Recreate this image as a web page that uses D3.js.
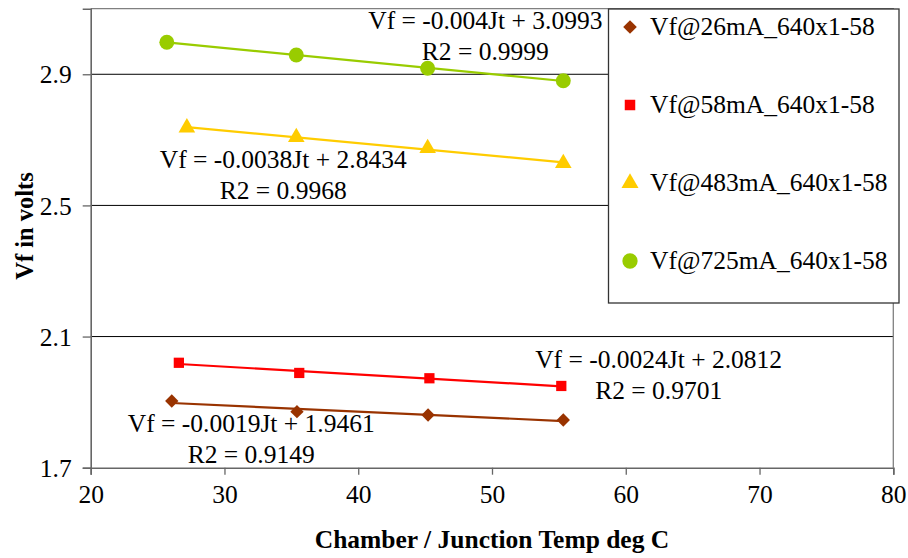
<!DOCTYPE html>
<html>
<head>
<meta charset="utf-8">
<script src="https://cdn.jsdelivr.net/npm/d3@7/dist/d3.min.js"></script>
<style>
  html, body { margin: 0; padding: 0; background: #fff; }
  svg { display: block; }
  text { font-family: "Liberation Serif", "Times New Roman", Times, serif; fill: #000; }
</style>
</head>
<body>
<svg id="chart" width="908" height="558"></svg>
<script>
// ---------- data ----------
const seriesNames = ["Vf@26mA_640x1-58", "Vf@58mA_640x1-58", "Vf@483mA_640x1-58", "Vf@725mA_640x1-58"];
const temps26  = [26.06, 35.42, 45.22, 55.33];
const volts26  = [1.9035, 1.8709, 1.8608, 1.8455];
const temps58  = [26.59, 35.59, 45.32, 55.18];
const volts58  = [2.0200, 1.9890, 1.9728, 1.9493];
const temps483 = [27.19, 35.37, 45.19, 55.33];
const volts483 = [2.7370, 2.7078, 2.6742, 2.6284];
const temps725 = [25.69, 35.37, 45.19, 55.33];
const volts725 = [2.9976, 2.9589, 2.9183, 2.8805];
const eqLabels = ["Vf = -0.0019Jt + 1.9461", "Vf = -0.0024Jt + 2.0812", "Vf = -0.0038Jt + 2.8434", "Vf = -0.004Jt + 3.0993"];
const r2Labels = ["R2 = 0.9149", "R2 = 0.9701", "R2 = 0.9968", "R2 = 0.9999"];
const xTicks = [20, 30, 40, 50, 60, 70, 80];
const yTicks = [1.7, 2.1, 2.5, 2.9];
const xTitle = "Chamber / Junction Temp deg C";
const yTitle = "Vf in volts";

// ---------- layout / style ----------
const colors = ["#993300", "#FF0000", "#FFCC00", "#99CC00"];
const symbols = [d3.symbolSquare, d3.symbolSquare, d3.symbolTriangle, d3.symbolCircle];
const symSizes = [105, 105, 120, 175];
const symTransforms = ["rotate(45) scale(0.92)", "", "", ""];
const annoPos = [[32.0, 1.8098], [62.46, 2.0042], [34.39, 2.614], [49.5, 3.037]]; // data coords of label centre/baseline
const FS = 25.5;

const svg = d3.select("#chart");
const L = 90.7, R = 893.3, T = 8.7, B = 467.7;
const x = d3.scaleLinear().domain([20, 80]).range([L, R]);
const y = d3.scaleLinear().domain([1.7, 3.1]).range([B, T]);

const series = [
  {temps: temps26, volts: volts26},
  {temps: temps58, volts: volts58},
  {temps: temps483, volts: volts483},
  {temps: temps725, volts: volts725}
];

// gridlines
svg.append("g").selectAll("line").data(yTicks.filter(v => v > 1.7)).join("line")
  .attr("x1", L).attr("x2", R).attr("y1", d => y(d)).attr("y2", d => y(d))
  .attr("stroke", "#000").attr("stroke-width", 1);

// plot border top/right
svg.append("path")
  .attr("d", `M${L},${T}H${R}V${B}`)
  .attr("fill", "none").attr("stroke", "#808080").attr("stroke-width", 1.3);

// axes
const xAxis = d3.axisBottom(x).tickValues(xTicks).tickSize(7).tickPadding(10).tickFormat(d3.format("d"));
const gx = svg.append("g").attr("transform", `translate(0,${B})`).call(xAxis);
const yAxis = d3.axisLeft(y).tickValues(yTicks).tickSize(8).tickPadding(11).tickFormat(d3.format(".1f"));
const gy = svg.append("g").attr("transform", `translate(${L},0)`).call(yAxis);
[gx, gy].forEach(g => {
  g.attr("font-family", null);
  g.select(".domain").attr("stroke", "#666").attr("stroke-width", 1.6);
  g.selectAll(".tick line").attr("stroke", "#666").attr("stroke-width", 1.3);
  g.selectAll(".tick text").attr("font-size", FS).attr("fill", "#000");
});
gx.selectAll(".tick text").attr("dy", "0.71em");
gy.selectAll(".tick text").attr("dy", "0.34em");

// axis titles
svg.append("text").attr("x", (L + R) / 2).attr("y", 548).attr("text-anchor", "middle")
  .attr("font-size", FS).attr("font-weight", "bold").text(xTitle);
svg.append("text").attr("transform", `translate(33,226) rotate(-90)`).attr("text-anchor", "middle")
  .attr("font-size", FS - 1).attr("font-weight", "bold").text(yTitle);

// trendlines (least squares) and markers
series.forEach((s, i) => {
  const mx = d3.mean(s.temps), my = d3.mean(s.volts);
  const sxy = d3.sum(s.temps, (t, k) => (t - mx) * (s.volts[k] - my));
  const sxx = d3.sum(s.temps, t => (t - mx) * (t - mx));
  const m = sxy / sxx, b = my - m * mx;
  const x0 = d3.min(s.temps), x1 = d3.max(s.temps);
  svg.append("line")
    .attr("x1", x(x0)).attr("y1", y(m * x0 + b))
    .attr("x2", x(x1)).attr("y2", y(m * x1 + b))
    .attr("stroke", colors[i]).attr("stroke-width", 2.2);
  svg.append("g").selectAll("path").data(s.temps.map((t, k) => [t, s.volts[k]])).join("path")
    .attr("transform", d => `translate(${x(d[0])},${y(d[1])}) ${symTransforms[i]}`)
    .attr("d", d3.symbol().type(symbols[i]).size(symSizes[i]))
    .attr("fill", colors[i]);
});

// annotations
eqLabels.forEach((eq, i) => {
  const [ax, ay] = annoPos[i];
  const t = svg.append("text").attr("text-anchor", "middle").attr("font-size", FS)
    .attr("x", x(ax)).attr("y", y(ay));
  t.append("tspan").attr("x", x(ax)).text(eq);
  t.append("tspan").attr("x", x(ax)).attr("dy", 31).text(r2Labels[i]);
});

// legend
const lg = svg.append("g");
lg.append("rect").attr("x", 608.5).attr("y", 9).attr("width", 290.5).attr("height", 294)
  .attr("fill", "#fff").attr("stroke", "#333").attr("stroke-width", 1.3);
const rowY = d3.scalePoint().domain(seriesNames).range([27, 261]);
seriesNames.forEach((nm, i) => {
  lg.append("path").attr("transform", `translate(630,${rowY(nm)}) ${symTransforms[i]}`)
    .attr("d", d3.symbol().type(symbols[i]).size(symSizes[i] * 1.05)).attr("fill", colors[i]);
  lg.append("text").attr("x", 650).attr("y", rowY(nm)).attr("dy", "0.33em")
    .attr("font-size", FS).text(nm);
});
</script>
</body>
</html>
